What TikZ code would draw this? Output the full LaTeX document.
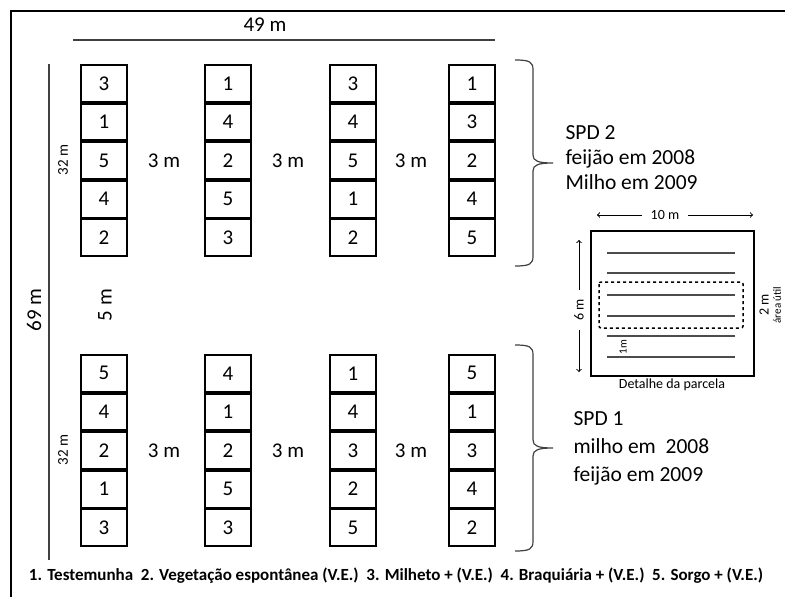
\documentclass[tikz,border=0pt]{standalone}
\usepackage{fontspec}
\setmainfont{Carlito}
\tikzset{
  cell/.style={draw, line width=2.2pt, minimum width=46pt, minimum height=37pt,
    inner sep=0pt, font=\fontsize{21}{21}\selectfont},
  bigtext/.style={font=\fontsize{21}{21}\selectfont},
  smalltext/.style={font=\fontsize{14}{14}\selectfont},
  dimline/.style={draw=black!75, line width=1.5pt},
  bracket/.style={draw=black!75, line width=1.2pt},
  dimarrow/.style={->, line width=1pt},
}
% right brace with top, bottom y at x = 515
\newcommand{\sysbrace}[2]{%
  \pgfmathsetmacro{\ymid}{(#1+#2)/2}
  \draw[bracket] (515,#1) .. controls (530,#1) and (533,#1+2) .. (533,#1+10)
    -- (533,\ymid-8) .. controls (533,\ymid-2) and (538,\ymid) .. (553,\ymid)
    .. controls (538,\ymid) and (533,\ymid+2) .. (533,\ymid+8)
    -- (533,#2-10) .. controls (533,#2-2) and (530,#2) .. (515,#2);
}
\begin{document}
\begin{tikzpicture}[x=1pt, y=-1pt]
  \useasboundingbox (0,0) rectangle (785,597);
  % outer frame
  \draw[line width=2.5pt] (11,605) -- (11,11) -- (795,11);
  % overall dimensions
  \coordinate (topL) at (73,40);
  \coordinate (topR) at (495,40);
  \draw[dimline] (topL) -- (topR);
  \node[bigtext] (width) at (265,25) {49 m};
  \coordinate (sideT) at (49,64);
  \coordinate (sideB) at (49,560);
  \draw[dimline] (sideT) -- (sideB);
  \node[bigtext, rotate=90] (height) at (34,310) {69 m};
  % SPD 2 plots
  \foreach \c/\xc/\seq in {1/104/{3,1,5,4,2}, 2/228/{1,4,2,5,3},
                           3/353/{3,4,5,1,2}, 4/472/{1,3,2,4,5}} {
    \foreach \v [count=\r] in \seq {
      \node[cell] (t\c\r) at (\xc, 44.7+38.6*\r) {\v};
    }
  }
  % SPD 1 plots
  \foreach \c/\xc/\seq in {1/104/{5,4,2,1,3}, 2/228/{4,1,2,5,3},
                           3/353/{1,4,3,2,5}, 4/472/{5,1,3,4,2}} {
    \foreach \v [count=\r] in \seq {
      \node[cell] (b\c\r) at (\xc, 334.7+38.6*\r) {\v};
    }
  }
  % spacings
  \foreach \k/\xg in {1/164, 2/288, 3/411} {
    \node[bigtext] (gapt\k) at (\xg,160.5) {3 m};
    \node[bigtext] (gapb\k) at (\xg,450.5) {3 m};
  }
  \node[font=\fontsize{15}{15}\selectfont, rotate=90] (lent) at (63,160) {32 m};
  \node[font=\fontsize{15}{15}\selectfont, rotate=90] (lenb) at (63,450) {32 m};
  \node[bigtext, rotate=90] (alley) at (105,305) {5 m};
  % braces and systems
  \sysbrace{60}{266}
  \sysbrace{345}{551}
  \node[font=\fontsize{21.5}{25}\selectfont, align=left, anchor=west] (spd2) at (562,158)
    {SPD 2\\feijão em 2008\\Milho em 2009};
  \node[font=\fontsize{21.5}{28}\selectfont, align=left, anchor=west] (spd1) at (570,448)
    {SPD 1\\milho em\ \ 2008\\feijão em 2009};
  % plot detail
  \draw[line width=2.5pt] (591,231) rectangle (754,376);
  \foreach \yl in {253,273,295,316,336,357}
    \draw[black!70, line width=1.2pt] (607,\yl) -- (735,\yl);
  \draw[dashed, line width=1.5pt, rounded corners=2pt] (599,282) rectangle (743,328);
  \node[smalltext, inner sep=9pt] (tenm) at (665,215) {10 m};
  \coordinate (tenL) at (597,215);
  \coordinate (tenR) at (753,215);
  \draw[dimarrow] (tenm) -- (tenL);
  \draw[dimarrow] (tenm) -- (tenR);
  \node[smalltext, rotate=90, inner sep=9pt] (sixm) at (579,310) {6 m};
  \coordinate (sixT) at (579,240);
  \coordinate (sixB) at (579,372);
  \draw[dimarrow] (sixm) -- (sixT);
  \draw[dimarrow] (sixm) -- (sixB);
  \node[font=\fontsize{11}{11}\selectfont, rotate=90] (onem) at (623,347) {1m};
  \node[smalltext, rotate=90] (twom) at (764,305) {2 m};
  \node[font=\fontsize{11}{11}\selectfont, rotate=90, inner sep=1pt] (util) at (777,305) {área útil};
  \node[smalltext] (detail) at (672,385) {Detalhe da parcela};
  % legend
  \node[font=\bfseries\fontsize{17}{17}\selectfont] (legend) at (396,576)
    {1. Testemunha\ \ 2. Vegetação espontânea (V.E.)\ \ 3. Milheto + (V.E.)\ \ 4. Braquiária + (V.E.)\ \ 5. Sorgo + (V.E.)};
\end{tikzpicture}
\end{document}
